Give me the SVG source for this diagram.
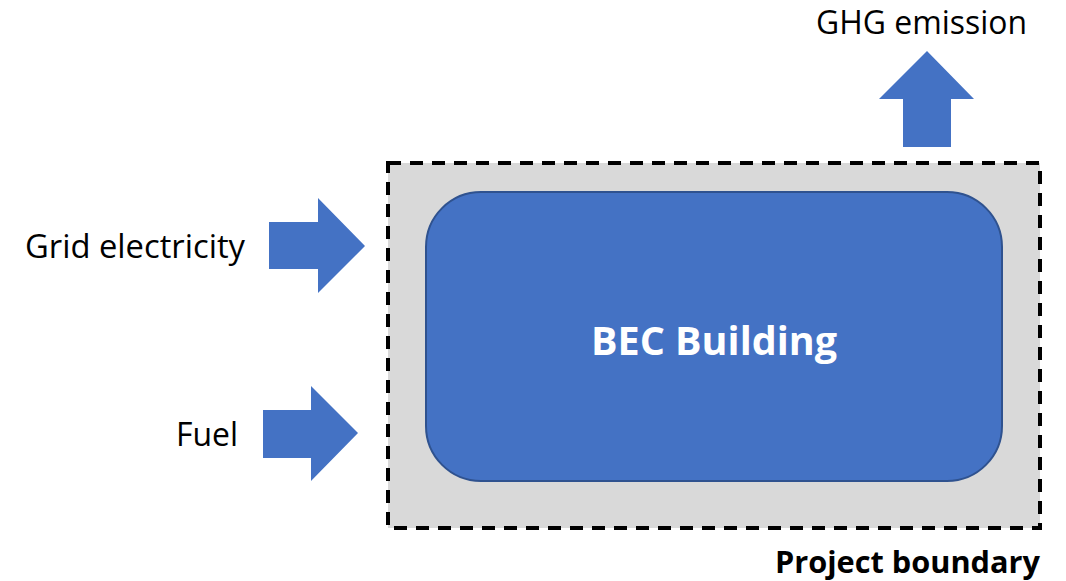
<svg xmlns="http://www.w3.org/2000/svg" width="1066" height="581" viewBox="0 0 1066 581">
  <style>
    .lbl { font-family: "Open Sans", "Liberation Sans", sans-serif; font-size: 32px; fill: #000; }
    .bold { font-family: "Open Sans", "Liberation Sans", sans-serif; font-weight: bold; }
    .arrow { fill: #4472C4; }
  </style>
  <rect width="1066" height="581" fill="#fff"/>

  <!-- project boundary -->
  <g id="boundary">
    <rect x="388" y="163" width="652" height="365" fill="#D9D9D9" stroke="#000" stroke-width="4" stroke-dasharray="13 9"/>
    <text class="bold" x="1040" y="573" font-size="30" text-anchor="end" textLength="265" lengthAdjust="spacingAndGlyphs">Project boundary</text>
  </g>

  <!-- building -->
  <g id="building">
    <rect x="426" y="192" width="576" height="289" rx="55" ry="55" fill="#4472C4" stroke="#2F528F" stroke-width="2"/>
    <text class="bold" x="714" y="355" font-size="40" fill="#fff" text-anchor="middle" textLength="246" lengthAdjust="spacingAndGlyphs">BEC Building</text>
  </g>

  <!-- flows in and out -->
  <g id="connectors">
    <polygon id="grid-arrow" class="arrow" points="269,222 318,222 318,198 365,246 318,293 318,269 269,269"/>
    <polygon id="fuel-arrow" class="arrow" points="263,410 311,410 311,386 358,433 311,481 311,458 263,458"/>
    <polygon id="ghg-arrow" class="arrow" points="927,51 974,99 951,99 951,147 903,147 903,99 879,99"/>
  </g>

  <g id="grid-electricity">
    <text class="lbl" x="25" y="258" textLength="220" lengthAdjust="spacingAndGlyphs">Grid electricity</text>
  </g>
  <g id="fuel">
    <text class="lbl" x="176" y="446" textLength="62" lengthAdjust="spacingAndGlyphs">Fuel</text>
  </g>
  <g id="ghg-emission">
    <text class="lbl" x="816" y="34" textLength="211" lengthAdjust="spacingAndGlyphs">GHG emission</text>
  </g>
</svg>
